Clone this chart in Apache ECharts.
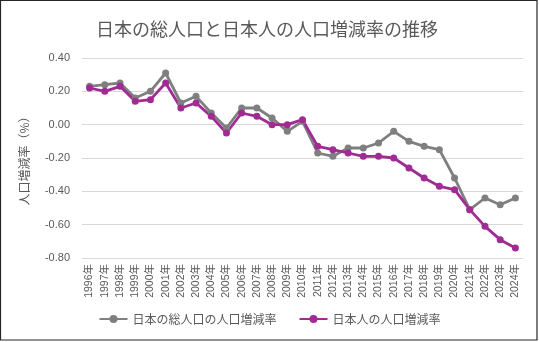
<!DOCTYPE html>
<html><head><meta charset="utf-8">
<script src="https://cdn.jsdelivr.net/npm/echarts@6/dist/echarts.min.js"></script>
<style>html,body{margin:0;padding:0;background:#fff}#c{width:539px;height:342px}</style>
</head><body><div id="c"></div>
<script>
var titleText = '日本の総人口と日本人の人口増減率の推移';
var yAxisName = '人口増減率（%）';
var years = ['1996年','1997年','1998年','1999年','2000年','2001年','2002年','2003年','2004年','2005年','2006年','2007年','2008年','2009年','2010年','2011年','2012年','2013年','2014年','2015年','2016年','2017年','2018年','2019年','2020年','2021年','2022年','2023年','2024年'];
var seriesNames = ['日本の総人口の人口増減率','日本人の人口増減率'];
var totalRate = [0.23,0.24,0.25,0.16,0.20,0.31,0.13,0.17,0.07,-0.02,0.10,0.10,0.04,-0.04,0.02,-0.17,-0.19,-0.14,-0.14,-0.11,-0.04,-0.10,-0.13,-0.15,-0.32,-0.51,-0.44,-0.48,-0.44];
var japaneseRate = [0.22,0.20,0.23,0.14,0.15,0.25,0.10,0.13,0.05,-0.05,0.07,0.05,0.00,0.00,0.03,-0.13,-0.15,-0.17,-0.19,-0.19,-0.20,-0.26,-0.32,-0.37,-0.39,-0.51,-0.61,-0.69,-0.74];

var FONT = '"Liberation Sans","Noto Sans CJK JP",sans-serif';
var TXT = '#595959';
var chart = echarts.init(document.getElementById('c'), null, {renderer:'canvas'});
chart.setOption({
  animation:false,
  textStyle:{fontFamily:FONT},
  title:{text:titleText,left:91,top:15,textStyle:{fontSize:18,fontWeight:'normal',color:TXT,fontFamily:'"Noto Sans CJK JP",sans-serif'}},
  graphic:[{type:'rect',shape:{x:0.5,y:0.5,width:536.5,height:339.5},style:{fill:'none',stroke:'#262626',lineWidth:1.2},silent:true}],
  legend:{bottom:12,left:'center',itemWidth:28,itemHeight:10,itemGap:22,
    textStyle:{fontSize:12,color:TXT,fontFamily:'"Noto Sans CJK JP",sans-serif'},
    data:seriesNames},
  grid:{left:82,right:16,top:58,bottom:84},
  xAxis:{type:'category',data:years,boundaryGap:true,
    axisLine:{show:false},axisTick:{show:false},
    axisLabel:{rotate:90,fontSize:10.5,color:TXT,margin:6,interval:0}},
  yAxis:{type:'value',min:-0.8,max:0.4,interval:0.2,
    name:yAxisName,nameLocation:'middle',nameRotate:90,nameGap:52,
    nameTextStyle:{fontSize:12,color:TXT,fontFamily:'"Noto Sans CJK JP",sans-serif'},
    axisLine:{show:false},axisTick:{show:false},
    splitLine:{lineStyle:{color:'#d9d9d9',width:1}},
    axisLabel:{fontSize:11,color:TXT,margin:12,formatter:function(v){return v.toFixed(2);}}},
  series:[
    {name:seriesNames[0],type:'line',data:totalRate,symbol:'circle',symbolSize:7,
     lineStyle:{color:'#7f7f7f',width:2.8},itemStyle:{color:'#7f7f7f'}},
    {name:seriesNames[1],type:'line',data:japaneseRate,symbol:'circle',symbolSize:7,
     lineStyle:{color:'#a02b93',width:2.8},itemStyle:{color:'#a02b93'}}
  ]
});
</script></body></html>
